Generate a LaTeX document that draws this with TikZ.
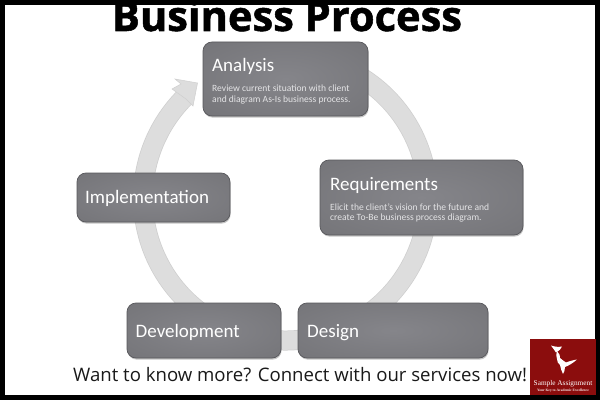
\documentclass[tikz,border=0pt]{standalone}
\usepackage{fontspec}
\setmainfont{Open Sans}
\newfontfamily\titlefont[BoldFeatures={FakeBold=1.2}]{Open Sans}
\newfontfamily\boxfont{Carlito}
\newfontfamily\logofont{Liberation Serif}
\usetikzlibrary{shadows}
\definecolor{ringc}{HTML}{DDDDDD}
\definecolor{ringe}{HTML}{CFCFCF}
\definecolor{boxin}{HTML}{85858A}
\definecolor{boxmid}{HTML}{747478}
\definecolor{boxout}{HTML}{59595D}
\definecolor{boxe}{HTML}{58585C}
\definecolor{logored}{HTML}{8B0D0D}
\definecolor{subc}{HTML}{E4E4E6}
\pgfdeclareradialshading{boxglow}{\pgfpoint{0bp}{0bp}}{color(0bp)=(boxin); color(38bp)=(boxmid); color(70bp)=(boxout); color(100bp)=(boxout)}
\tikzset{
  x=1pt,y=1pt,
  procbox/.style={shading=boxglow,draw=boxe,line width=.7pt,
    rounded corners=9pt,inner sep=0pt,
    drop shadow={shadow xshift=.6pt,shadow yshift=-1.6pt,opacity=.45}},
  headtext/.style={anchor=base west,inner sep=0pt,text=white,font=\boxfont\fontsize{19}{19}\selectfont},
  subtext/.style={anchor=base west,inner sep=0pt,text=subc,align=left,font=\boxfont\fontsize{9.55}{10.4}\selectfont},
}
\begin{document}
\begin{tikzpicture}
\useasboundingbox (0,0) rectangle (600,400);
\fill[black] (0,0) rectangle (600,400);
\fill[white] (5,5) rectangle (595,395);
\node[anchor=base,inner sep=0pt,font=\titlefont\bfseries\fontsize{41.6}{41.6}\selectfont] (title) at (287,369) {Business Process};
\coordinate (ringc) at (285.5,202);
% ring
\draw[ringe,line width=20pt] (ringc) ++(60:142.5) arc (60:-226:142.5);
\draw[ringc,line width=18.5pt] (ringc) ++(60:142.5) arc (60:-226:142.5);
\fill[ringc,draw=ringe,line width=.5pt,line join=miter] (175,321) -- (197.5,317) -- (193,294) -- (186,301) -- (172,311) -- (181,316) -- cycle;
% boxes
\node[procbox,minimum width=165pt,minimum height=74pt] (analysis) at (285.5,321) {};
\node[procbox,minimum width=203pt,minimum height=75pt] (req) at (421.5,202.5) {};
\node[procbox,minimum width=153pt,minimum height=49pt] (impl) at (153.5,202.5) {};
\node[procbox,minimum width=154pt,minimum height=55pt] (dev) at (204,69.5) {};
\node[procbox,minimum width=190pt,minimum height=55pt] (design) at (393,69.5) {};
% texts
\node[headtext] (t1) at (212,328) {Analysis};
\node[subtext] (s1) at (212,298) {Review current situation with client\\and diagram As-Is business process.};
\node[headtext] (t2) at (330,210) {Requirements};
\node[subtext] (s2) at (330,179.5) {Elicit the client’s vision for the future and\\create To-Be business process diagram.};
\node[headtext] (t3) at (85,197) {Implementation};
\node[headtext] (t4) at (135.5,63) {Development};
\node[headtext] (t5) at (307,63) {Design};
\node[anchor=base west,inner sep=0pt,text=black!90,font=\fontsize{18.6}{18.6}\selectfont] (cta) at (73,18.5) {Want to know more? Connect with our services now!};
% logo
\fill[logored] (530,5) rectangle (596,61);
\fill[white] (551,54.5) .. controls (555,53) and (559,53) .. (562,53.5) .. controls (561,51) and (559,49) .. (556,47.5) .. controls (555,49) and (553,52) .. (551,54.5) -- cycle;
\fill[white] (557,49) .. controls (559,46) and (561,44) .. (560,42) .. controls (562,40) and (564,39) .. (566,37.5) .. controls (570,39) and (574,40) .. (577,40.5) .. controls (573,37) and (569,34.5) .. (565,33) .. controls (565,30) and (564,27.5) .. (563,26) .. controls (562,29) and (560,32) .. (560,35) .. controls (558,36) and (557,39) .. (557,41) .. controls (556,44) and (556,46) .. (557,49) -- cycle;
\node[anchor=base,inner sep=0pt,text=white,font=\logofont\fontsize{7.3}{7.3}\selectfont] (logo1) at (563,14.5) {Sample Assignment};
\node[anchor=base,inner sep=0pt,text=white!90!logored,font=\logofont\bfseries\fontsize{3.6}{3.6}\selectfont] (logo2) at (563,8.5) {Your Key to Academic Excellence};
\end{tikzpicture}
\end{document}
